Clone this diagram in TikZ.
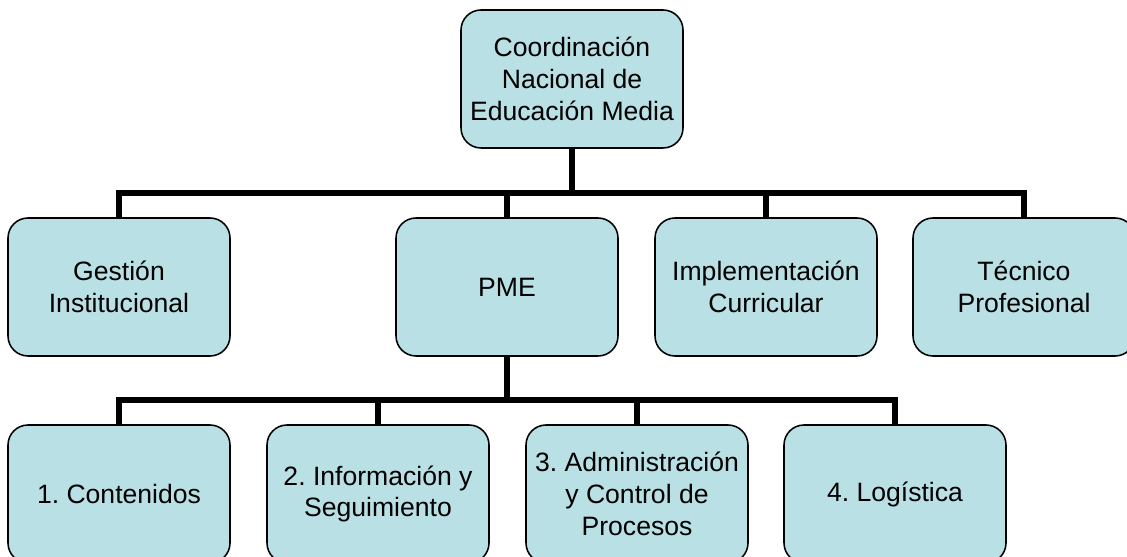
\documentclass[tikz,border=0pt]{standalone}
\usepackage{fontspec}
\setmainfont{Liberation Sans}
\usepackage{tikz}
\definecolor{boxfill}{RGB}{185,224,228}
\frenchspacing

\begin{document}
\begin{tikzpicture}[
	box/.style={draw=black, line width=1.1pt, fill=boxfill, rounded corners=0.5cm,
		minimum width=5.55cm, minimum height=3.45cm, align=center,
		font=\fontsize{18.9pt}{22.6pt}\selectfont},
	link/.style={line width=4.3pt, line join=miter}]

	% Picture frame
	\clip (0,0) rectangle (28.175,-13.925);

	% Top box
	\node[box] (coord) at (14.3,-1.975) {Coordinación\\Nacional de\\Educación Media};

	% Second row
	\node[box] (gest) at (2.975,-7.175) {Gestión\\Institucional};
	\node[box] (pme) at (12.675,-7.175) {PME};
	\node[box] (impl) at (19.15,-7.175) {Implementación\\Curricular};
	\node[box] (tec) at (25.6,-7.175) {Técnico\\Profesional};

	% Third row, under PME
	\node[box] (cont) at (2.975,-12.35) {1. Contenidos};
	\node[box] (info) at (9.45,-12.35) {2. Información y\\Seguimiento};
	\node[box] (admin) at (15.925,-12.35) {3. Administración\\y Control de\\Procesos};
	\node[box] (logi) at (22.375,-12.35) {4. Logística};

	% Bus lines
	\coordinate (busA) at (0,-4.825);
	\coordinate (busB) at (0,-10.0);

	% Links from the top box
	\draw[link] (coord.south) -- (coord.south |- busA);
	\draw[link] (gest.north) -- (gest.north |- busA) -- (tec.north |- busA) -- (tec.north);
	\draw[link] (pme.north) -- (pme.north |- busA);
	\draw[link] (impl.north) -- (impl.north |- busA);

	% Links from PME
	\draw[link] (pme.south) -- (pme.south |- busB);
	\draw[link] (cont.north) -- (cont.north |- busB) -- (logi.north |- busB) -- (logi.north);
	\draw[link] (info.north) -- (info.north |- busB);
	\draw[link] (admin.north) -- (admin.north |- busB);

\end{tikzpicture}
\end{document}
